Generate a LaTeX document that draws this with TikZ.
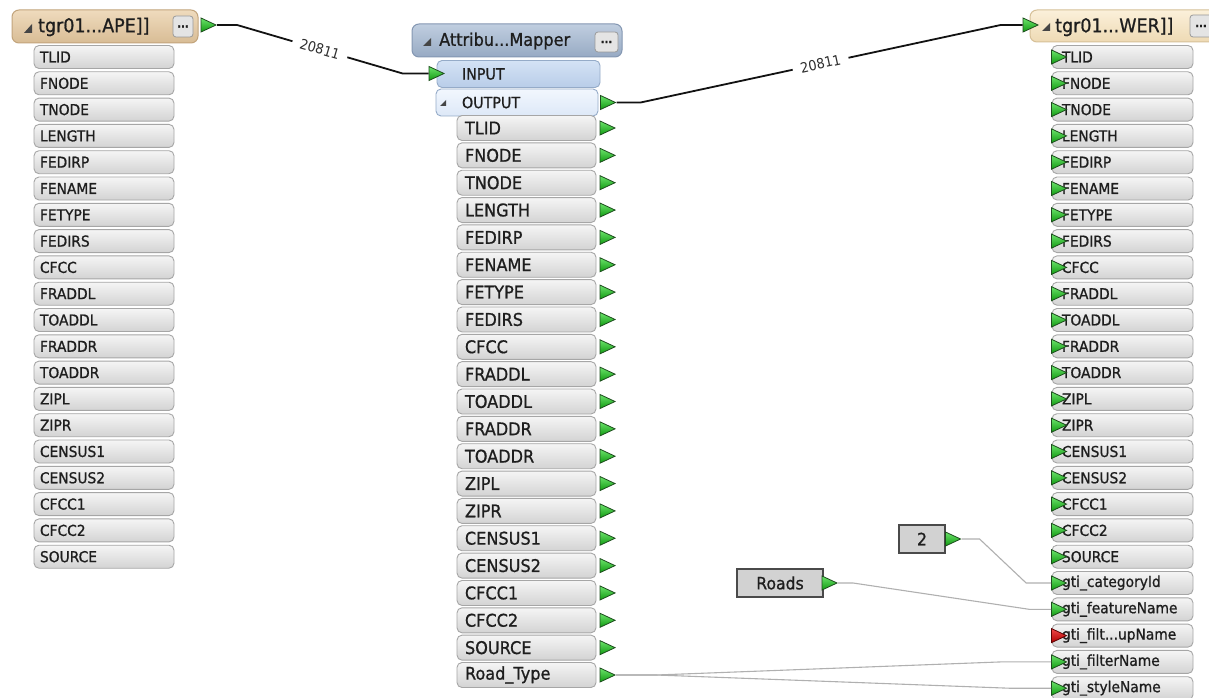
\documentclass[tikz,border=0pt]{standalone}
\usepackage{fontspec}
\newfontfamily\uifont{DejaVu Sans}[FakeStretch=0.92,FakeBold=0.9]
\newfontfamily\lblfont{DejaVu Sans}[FakeStretch=0.92]
\newcommand\uisize[1]{\fontsize{#1}{#1}\selectfont}
\newcommand\threedots{...}
\usetikzlibrary{shapes.geometric}

\definecolor{rowtop}{HTML}{F5F5F5}
\definecolor{rowbot}{HTML}{D3D3D3}
\definecolor{rowline}{HTML}{A6A6A6}
\definecolor{txt}{HTML}{1E1E1E}
\definecolor{tanTop}{HTML}{EFDBBD}
\definecolor{tanBot}{HTML}{D8BC95}
\definecolor{tanLine}{HTML}{C2A47C}
\definecolor{creamTop}{HTML}{FBF0DA}
\definecolor{creamBot}{HTML}{EEDAB4}
\definecolor{creamLine}{HTML}{D6C098}
\definecolor{blueTop}{HTML}{C0CEE0}
\definecolor{blueBot}{HTML}{97AAC3}
\definecolor{blueLine}{HTML}{8497B2}
\definecolor{inTop}{HTML}{D3E2F5}
\definecolor{inBot}{HTML}{B9CDE8}
\definecolor{outTop}{HTML}{F2F7FE}
\definecolor{outBot}{HTML}{DDE8F7}
\definecolor{ioLine}{HTML}{95ABC8}
\definecolor{portTop}{HTML}{6BE36B}
\definecolor{portBot}{HTML}{119A11}
\definecolor{portLine}{HTML}{1D4D1D}
\definecolor{redTop}{HTML}{F04848}
\definecolor{redBot}{HTML}{B00000}
\definecolor{redLine}{HTML}{5A0000}
\definecolor{valFill}{HTML}{D2D2D2}
\definecolor{valLine}{HTML}{4A4A4A}
\definecolor{feed}{HTML}{B0B0B0}
\definecolor{lbltxt}{HTML}{2E2E2E}
\definecolor{marker}{HTML}{454545}
\definecolor{btnFill}{HTML}{E4E4E4}
\definecolor{btnLine}{HTML}{9A9A9A}

\tikzset{
  cell/.style={draw=rowline, line width=0.9pt, rounded corners=5pt,
    top color=rowtop, bottom color=rowbot, text=txt, inner ysep=0pt},
  fixedtext/.style={execute at begin node={\hbox to #1\bgroup},
    execute at end node={\hss\egroup}},
  lrow/.style={cell, minimum height=23pt, inner xsep=6pt,
    font=\uifont\uisize{15}, fixedtext=128pt},
  mrow/.style={cell, minimum height=25pt, inner xsep=8pt,
    font=\uifont\uisize{17.5}, fixedtext=123pt},
  rrow/.style={cell, minimum height=23pt, inner xsep=10pt,
    font=\uifont\uisize{15}, fixedtext=121pt},
  iorow/.style={draw=ioLine, line width=0.9pt, rounded corners=5pt,
    minimum height=27pt, inner ysep=0pt, text=txt,
    font=\uifont\uisize{15.5}},
  header/.style={line width=1pt, rounded corners=7pt, minimum height=33pt},
  lhead/.style={header, draw=tanLine, top color=tanTop, bottom color=tanBot,
    minimum width=186pt},
  rhead/.style={header, draw=creamLine, top color=creamTop, bottom color=creamBot,
    minimum width=190pt, minimum height=32pt},
  mhead/.style={header, draw=blueLine, top color=blueTop, bottom color=blueBot,
    minimum width=210pt},
  hdtext/.style={inner sep=0pt, text=txt, font=\uifont\uisize{19}},
  btn/.style={draw=btnLine, line width=0.8pt, rounded corners=3pt,
    fill=btnFill, inner sep=0pt, text=txt, font=\uifont\bfseries\uisize{11}},
  port/.style={shape=isosceles triangle, isosceles triangle stretches,
    minimum width=14pt, minimum height=15pt, inner sep=0pt,
    draw=portLine, line width=0.8pt, top color=portTop, bottom color=portBot},
  badport/.style={port, draw=redLine, top color=redTop, bottom color=redBot},
  valbox/.style={draw=valLine, line width=1.2pt, fill=valFill,
    minimum height=28pt, inner sep=0pt, text=txt, font=\uifont\uisize{17}},
  wire/.style={draw=black!93, line width=1.8pt},
  gwire/.style={draw=feed, line width=1.1pt},
  lbl/.style={fill=white, inner xsep=8pt, inner ysep=1pt, text=lbltxt,
    font=\lblfont\uisize{14}},
}

\begin{document}
\begin{tikzpicture}[x=1pt,y=-1pt]
\useasboundingbox (0,0) rectangle (1209,698);
\fill[white] (0,0) rectangle (1209,698);

% ---- source feature type ----
\node[lhead] (lh) at (105,26.5) {};
\fill[marker] (24,33) -- (32,33) -- (32,24) -- cycle;
\node[hdtext, anchor=west] (lht) at (38,27) {tgr01...APE]]};
\node[btn, minimum width=20pt, minimum height=21pt] (lb) at (183,26.5) {...};
\node[port] (lhp) at (205.5,25) {};
\foreach \t [count=\i from 0] in {TLID,FNODE,TNODE,LENGTH,FEDIRP,FENAME,FETYPE,
    FEDIRS,CFCC,FRADDL,TOADDL,FRADDR,TOADDR,ZIPL,ZIPR,CENSUS1,CENSUS2,CFCC1,CFCC2,SOURCE}
  \node[lrow] (l\i) at (104,{57+26.3*\i}) {\t};

% ---- attribute mapper ----
\node[mhead] (mh) at (517,40.5) {};
\fill[marker] (423,46) -- (431,46) -- (431,38) -- cycle;
\node[hdtext, anchor=west, font=\uifont\uisize{17.5}] (mht) at (439,41) {Attribu...Mapper};
\node[btn, minimum width=23pt, minimum height=20pt] (mb) at (606.5,42) {...};
\node[iorow, top color=inTop, bottom color=inBot, inner xsep=25pt,
      fixedtext=113pt] (min) at (518.5,74) {INPUT};
\node[iorow, top color=outTop, bottom color=outBot, inner xsep=26pt,
      fixedtext=110pt] (mout) at (517,102.5) {OUTPUT};
\fill[marker] (440,106) -- (446,106) -- (446,100) -- cycle;
\node[port] (mip) at (433.5,73.5) {};
\node[port] (mop) at (605,102.5) {};
\foreach \t [count=\i from 0] in {TLID,FNODE,TNODE,LENGTH,FEDIRP,FENAME,FETYPE,
    FEDIRS,CFCC,FRADDL,TOADDL,FRADDR,TOADDR,ZIPL,ZIPR,CENSUS1,CENSUS2,CFCC1,CFCC2,
    SOURCE,Road\_Type}
{
  \node[mrow] (m\i) at (526.5,{128+27.35*\i}) {\t};
  \node[port] (mp\i) at (604.5,{128+27.35*\i}) {};
}

% ---- destination feature type ----
\node[rhead] (rh) at (1125,26) {};
\fill[marker] (1042,31) -- (1050,31) -- (1050,23) -- cycle;
\node[hdtext, anchor=west] (rht) at (1055,27) {tgr01...WER]]};
\node[btn, minimum width=22pt, minimum height=22pt] (rb) at (1201,26) {...};
\node[port] (rhp) at (1027.5,25) {};
\foreach \t [count=\i from 0] in {TLID,FNODE,TNODE,LENGTH,FEDIRP,FENAME,FETYPE,
    FEDIRS,CFCC,FRADDL,TOADDL,FRADDR,TOADDR,ZIPL,ZIPR,CENSUS1,CENSUS2,CFCC1,CFCC2,
    SOURCE,gti\_categoryId,gti\_featureName,gti\_filt\threedots upName,
    gti\_filterName,gti\_styleName}
{
  \ifnum\i=22 \def\pst{badport}\else\def\pst{port}\fi
  \node[rrow] (r\i) at (1122.5,{57+26.3*\i}) {\t};
  \node[\pst] (rp\i) at (1056,{57+26.3*\i}) {};
}

% ---- constant values ----
\node[valbox, minimum width=46pt] (vtwo) at (922,539) {2};
\node[port] (vtwop) at (950,539) {};
\node[valbox, minimum width=86pt] (vroads) at (780,583) {Roads};
\node[port] (vroadsp) at (826.5,583) {};

% ---- feature connections ----
\draw[wire] (lhp.east) -- ++(20,0)
  -- node[lbl, sloped] {20811} ([xshift=-26pt]mip.west) -- (mip.west);
\draw[wire] (mop.east) -- ++(24,0)
  -- node[lbl, sloped] {20811} ([xshift=-22pt]rhp.west) -- (rhp.west);

% ---- attribute connections ----
\draw[gwire] (vtwop.east) -- ++(18,0) -- ([xshift=-25pt]rp20.west) -- (rp20.west);
\draw[gwire] (vroadsp.east) -- ++(15,0) -- ([xshift=-22pt]rp21.west) -- (rp21.west);
\draw[gwire] (mp20.east) -- ++(40,0) -- ([xshift=-50pt]rp23.west) -- (rp23.west);
\draw[gwire] (mp20.east) -- ++(40,0) -- ([xshift=-42pt]rp24.west) -- (rp24.west);
\end{tikzpicture}
\end{document}
